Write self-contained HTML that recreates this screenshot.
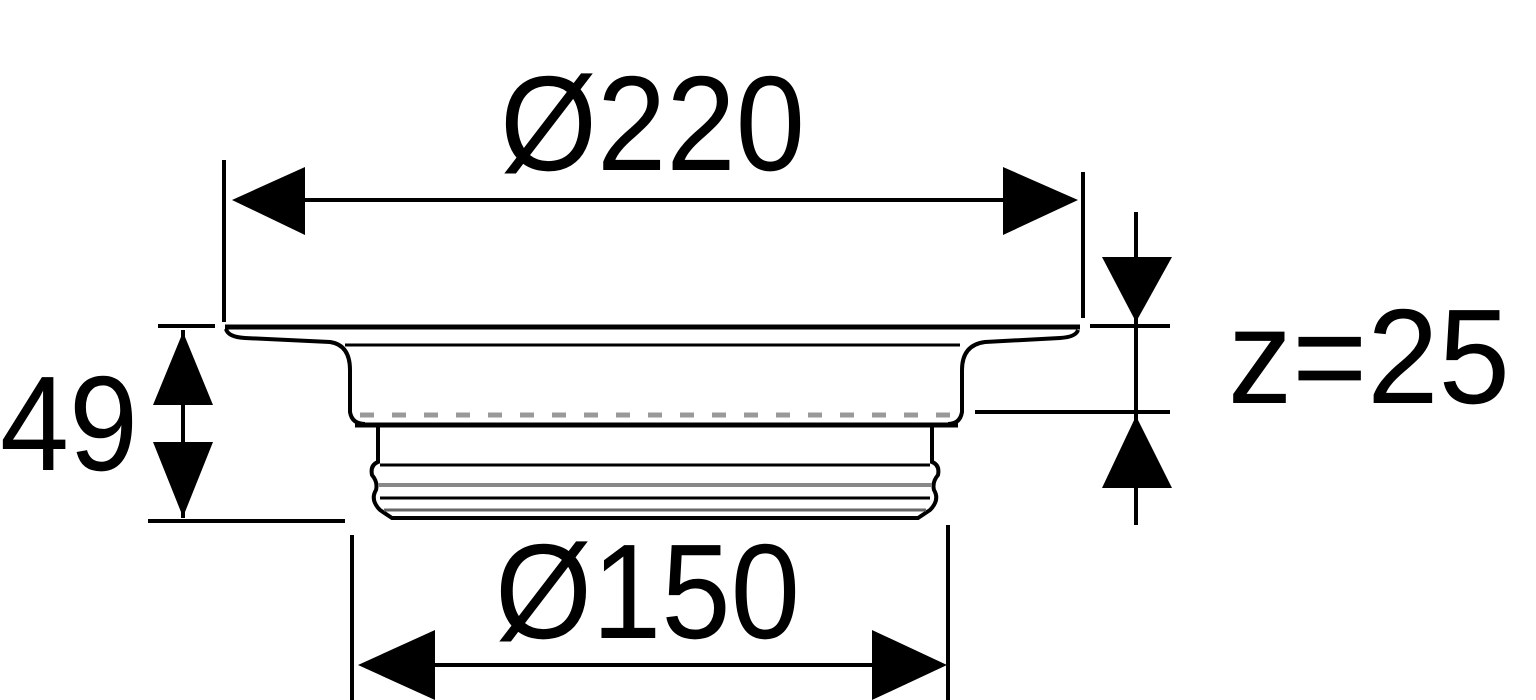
<!DOCTYPE html>
<html><head><style>html,body{margin:0;padding:0;background:#fff}svg{display:block}</style></head>
<body>
<svg width="1536" height="700" viewBox="0 0 1536 700" xmlns="http://www.w3.org/2000/svg" font-family="Liberation Sans, sans-serif">
<rect width="1536" height="700" fill="#fff"/>
<g stroke="#000" fill="none" stroke-width="4">
 <!-- top dimension -->
 <line x1="224" y1="160" x2="224" y2="322"/>
 <line x1="1083" y1="172" x2="1083" y2="318"/>
 <line x1="300" y1="200" x2="1010" y2="200"/>
 <!-- flange -->
 <line x1="225" y1="327" x2="1080" y2="327" stroke-width="5"/>
 <line x1="345" y1="345" x2="960" y2="345" stroke-width="3"/>
 <path d="M226,329 Q228,337 245,338 L330,342 Q350,345 350,370 L350,412 Q352,424 365,424"/>
 <path d="M1078,330 Q1076,337 1060,338 L985,342 Q962,345 962,370 L962,412 Q960,424 948,424"/>
 <line x1="360" y1="415" x2="955" y2="415" stroke="#999" stroke-width="5" stroke-dasharray="14,18"/>
 <line x1="355" y1="425" x2="958" y2="425" stroke-width="5"/>
 <!-- lower body -->
 <path d="M378,425 L378,462 Q370,465 372,475 Q378,482 376,490 Q370,500 380,510 L392,518 L918,518 L930,510 Q940,500 934,490 Q932,482 938,475 Q940,465 932,462 L932,425"/>
 <line x1="380" y1="465" x2="930" y2="465" stroke-width="3"/>
 <line x1="378" y1="485" x2="932" y2="485" stroke="#888" stroke-width="4"/>
 <line x1="380" y1="498" x2="930" y2="498" stroke-width="3"/>
 <line x1="384" y1="510" x2="926" y2="510" stroke="#666" stroke-width="3"/>
 <!-- 49 dimension -->
 <line x1="158" y1="326" x2="215" y2="326"/>
 <line x1="148" y1="521" x2="345" y2="521"/>
 <line x1="183" y1="330" x2="183" y2="518"/>
 <!-- z dimension -->
 <line x1="1136" y1="212" x2="1136" y2="525"/>
 <line x1="1090" y1="326" x2="1170" y2="326"/>
 <line x1="975" y1="412" x2="1170" y2="412"/>
 <!-- bottom dimension -->
 <line x1="352" y1="535" x2="352" y2="700"/>
 <line x1="948" y1="525" x2="948" y2="700"/>
 <line x1="430" y1="665" x2="880" y2="665"/>
</g>
<g fill="#000">
 <polygon points="232,200 305,167 305,235"/>
 <polygon points="1078,200 1003,167 1003,235"/>
 <polygon points="183,332 153,405 213,405"/>
 <polygon points="183,517 153,442 213,442"/>
 <polygon points="1136,322 1102,257 1172,257"/>
 <polygon points="1136,416 1102,488 1172,488"/>
 <polygon points="358,665 435,630 435,700"/>
 <polygon points="947,665 872,630 872,700"/>
</g>
<g font-size="135" fill="#000">
 <text x="500" y="170" textLength="305" lengthAdjust="spacingAndGlyphs">Ø220</text>
 <text x="495" y="638" textLength="305" lengthAdjust="spacingAndGlyphs">Ø150</text>
 <text x="0" y="470" textLength="138" lengthAdjust="spacingAndGlyphs">49</text>
 <text x="1228" y="403" textLength="282" lengthAdjust="spacingAndGlyphs">z=25</text>
</g>
</svg>
</body></html>
